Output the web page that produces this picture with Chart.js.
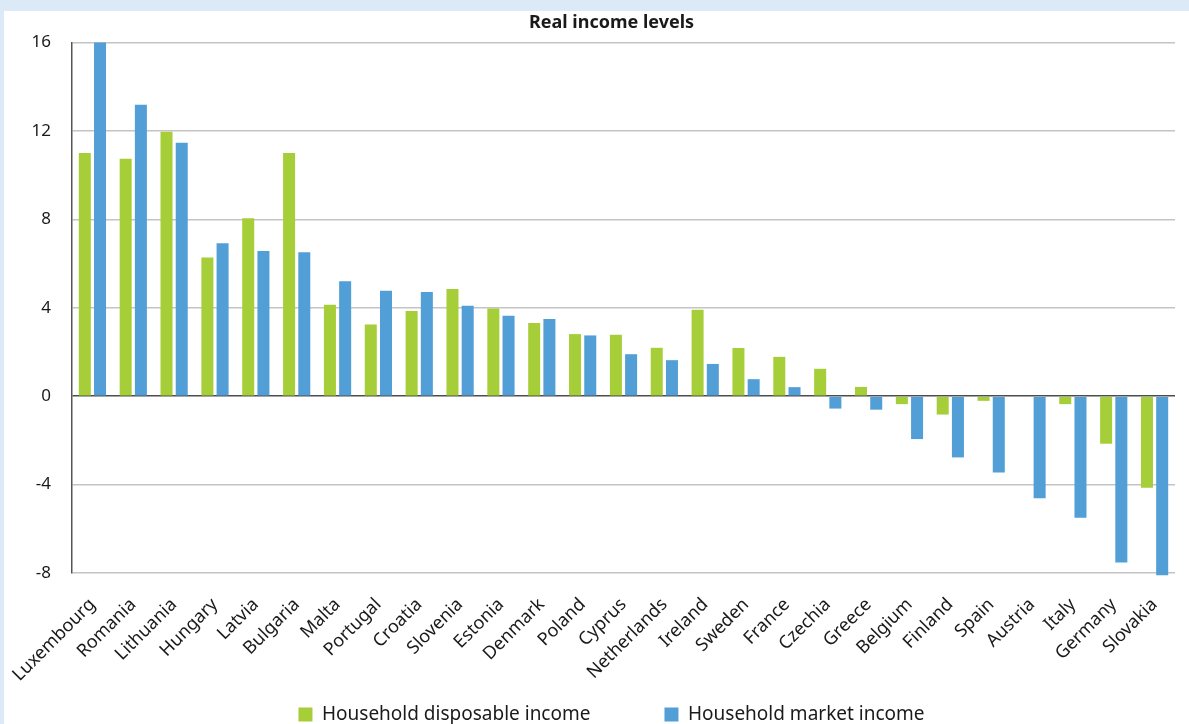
<!DOCTYPE html>
<html>
<head>
<meta charset="utf-8">
<script src="https://cdn.jsdelivr.net/npm/chart.js@4/dist/chart.umd.min.js"></script>
<style>
  html, body { margin: 0; padding: 0; overflow: hidden; background: #dbeaf6; }
  #panel { position: absolute; left: 4px; top: 11px; right: 0; bottom: 0; background: #fff; }
  #chart { position: absolute; left: 0; top: 0; }
</style>
</head>
<body>
<div id="panel"></div>
<canvas id="chart" width="1189" height="734"></canvas>
<script>
const COUNTRIES = [
	'Luxembourg', 'Romania', 'Lithuania', 'Hungary', 'Latvia', 'Bulgaria', 'Malta',
	'Portugal', 'Croatia', 'Slovenia', 'Estonia', 'Denmark', 'Poland', 'Cyprus',
	'Netherlands', 'Ireland', 'Sweden', 'France', 'Czechia', 'Greece', 'Belgium',
	'Finland', 'Spain', 'Austria', 'Italy', 'Germany', 'Slovakia',
];
const DISPOSABLE = [
	11.0, 10.75, 11.97, 6.28, 8.05, 11.0, 4.14,
	3.25, 3.85, 4.85, 3.97, 3.31, 2.81, 2.78,
	2.19, 3.91, 2.18, 1.78, 1.24, 0.42, -0.36,
	-0.83, -0.21, 0, -0.36, -2.15, -4.14,
];
const MARKET = [
	16.0, 13.19, 11.47, 6.92, 6.57, 6.51, 5.2,
	4.77, 4.71, 4.09, 3.64, 3.49, 2.75, 1.9,
	1.63, 1.46, 0.77, 0.41, -0.56, -0.61, -1.94,
	-2.77, -3.45, -4.62, -5.5, -7.53, -8.1,
];
const Y_TICKS = [-8, -4, 0, 4, 8, 12, 16];

const COLORS = {
	green: '#a6ce39',
	blue: '#529fd7',
	text: '#1a1a1a',
	grid: '#c4c4c4',
	zero: '#4d4d4d',
};
const FONT = '"Noto Sans", "Open Sans", sans-serif';

const CANVAS_H = 734;
const LEGEND_PAD = 74;
const LEGEND_FONT = 19;
const LEGEND_H = LEGEND_FONT + LEGEND_PAD + 10;
const PLOT_BOTTOM = 573;

// tick labels may spill outside their (narrow) scale boxes, don't clip them
const noLabelClip = (scale) => {
	scale._computeLabelArea = () => undefined;
};

const ctx = document.getElementById('chart').getContext('2d');

const data = {
	labels: COUNTRIES,
	datasets: [
		{
			label: 'Household disposable income',
			data: DISPOSABLE,
			backgroundColor: COLORS.green,
			categoryPercentage: 0.745,
			barPercentage: 0.79,
			clip: false,
		},
		{
			label: 'Household market income',
			data: MARKET,
			backgroundColor: COLORS.blue,
			categoryPercentage: 0.745,
			barPercentage: 0.79,
			clip: false,
		},
	],
};

new Chart(ctx, {
	type: 'bar',
	data: data,
	options: {
		responsive: false,
		animation: false,
		layout: {
			padding: { left: 48, right: 14, top: 0, bottom: 0 },
		},
		plugins: {
			title: {
				display: true,
				text: 'Real income levels',
				color: COLORS.text,
				font: { family: FONT, size: 18, weight: 'bold' },
				padding: { top: 12, bottom: 9 },
			},
			legend: {
				position: 'bottom',
				labels: {
					boxWidth: 14,
					boxHeight: 14,
					padding: LEGEND_PAD,
					color: COLORS.text,
					font: { family: FONT, size: LEGEND_FONT },
				},
			},
			tooltip: { enabled: false },
		},
		scales: {
			x: {
				grid: { display: false },
				border: { display: false },
				ticks: {
					minRotation: 45,
					maxRotation: 45,
					autoSkip: false,
					padding: 13,
					color: COLORS.text,
					font: { family: FONT, size: 18 },
				},
				afterFit: (scale) => {
					scale.height = CANVAS_H - LEGEND_H - PLOT_BOTTOM;
					noLabelClip(scale);
				},
			},
			y: {
				min: -8,
				max: 16,
				afterBuildTicks: (scale) => {
					scale.ticks = Y_TICKS.map((v) => ({ value: v }));
				},
				grid: {
					drawTicks: false,
					lineWidth: 1.5,
					color: (c) => (c.tick && c.tick.value === 0 ? COLORS.zero : COLORS.grid),
				},
				border: { display: true, color: '#555', width: 1.5 },
				ticks: {
					padding: 21,
					color: COLORS.text,
					font: { family: FONT, size: 17 },
				},
				afterFit: (scale) => {
					scale.width = 24;
					noLabelClip(scale);
				},
			},
		},
	},
});
</script>
</body>
</html>
